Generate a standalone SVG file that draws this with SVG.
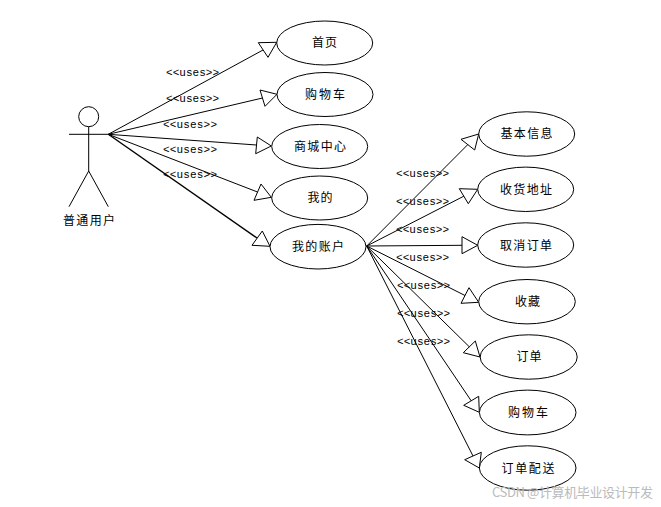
<svg xmlns="http://www.w3.org/2000/svg" width="661" height="507" viewBox="0 0 661 507">
<style>
.s{fill:none;stroke:#000;stroke-width:1}
.u{fill:#fff;stroke:#000;stroke-width:1}
.a{fill:none;stroke:#000;stroke-width:1}
.t{font-family:"Noto Sans CJK SC","Liberation Sans",sans-serif;font-size:12px;fill:#000;text-anchor:middle}
.l{font-family:"Liberation Mono","Liberation Serif",monospace;font-size:11px;fill:#000}
.w{font-family:"Noto Sans CJK SC","Liberation Sans",sans-serif;font-size:13px;fill:#bbb}
</style>
<rect width="661" height="507" fill="#fff"/>
<g id="connectors">
<path class="s" d="M108.3 134.3L263 50"/><polygon class="a" points="276.7,42.3 258.3,42.7 268,57.3"/>
<path class="s" d="M108.3 134.3L262.5 98"/><polygon class="a" points="277,94.3 260,90 265,106.3"/>
<path class="s" d="M108.3 134.3L256.5 145"/><polygon class="a" points="271.3,146 257.3,137 255.7,153.7"/>
<path class="s" d="M108.3 134.3L257.5 192"/><polygon class="a" points="271.3,197.3 261,184 254,200.3"/>
<path class="s" style="stroke-width:1.4" d="M108.3 134.3L257 238"/><polygon class="a" points="270,246.3 262.3,231 252,245.3"/>
<path class="s" d="M366.7 246L467.8 144.6"/><polygon class="a" points="478.7,134 461,139.3 474.7,150"/>
<path class="s" d="M366.7 246L463.8 196.2"/><polygon class="a" points="477.7,189.3 459.3,188.7 468.3,203.7"/>
<path class="s" d="M366.7 246L462 245.3"/><polygon class="a" points="477.7,245.3 462,236.7 462,253.7"/>
<path class="s" d="M366.7 246L465 295.5"/><polygon class="a" points="478.7,302.3 469,287.7 461,303.3"/>
<path class="s" d="M366.7 246L469.3 346.8"/><polygon class="a" points="480,357 475.3,341 463.3,352.7"/>
<path class="s" d="M366.7 246L471.2 400.8"/><polygon class="a" points="479.3,412.3 478.7,396.3 463.7,405.3"/>
<path class="s" d="M366.7 246L473 456"/><polygon class="a" points="479.3,468 481.3,452.3 464.7,459.7"/>
</g>
<g id="labels">
<text class="l" x="166" y="76" textLength="53">&lt;&lt;uses&gt;&gt;</text>
<text class="l" x="166" y="102" textLength="53">&lt;&lt;uses&gt;&gt;</text>
<text class="l" x="163" y="128" textLength="54">&lt;&lt;uses&gt;&gt;</text>
<text class="l" x="163" y="153" textLength="54">&lt;&lt;uses&gt;&gt;</text>
<text class="l" x="163" y="178" textLength="54">&lt;&lt;uses&gt;&gt;</text>
<text class="l" x="396" y="177" textLength="53">&lt;&lt;uses&gt;&gt;</text>
<text class="l" x="396" y="205" textLength="53">&lt;&lt;uses&gt;&gt;</text>
<text class="l" x="396" y="233" textLength="53">&lt;&lt;uses&gt;&gt;</text>
<text class="l" x="396" y="261" textLength="53">&lt;&lt;uses&gt;&gt;</text>
<text class="l" x="397" y="289" textLength="53">&lt;&lt;uses&gt;&gt;</text>
<text class="l" x="397" y="317" textLength="53">&lt;&lt;uses&gt;&gt;</text>
<text class="l" x="397" y="345" textLength="53">&lt;&lt;uses&gt;&gt;</text>
</g>
<g id="actor">
<circle class="s" cx="88.7" cy="116.7" r="10"/>
<path class="s" d="M88.7 126.7V171M69 134.3H108.3M88.7 171L69 206.7M88.7 171L108.3 206.7"/>
<text class="t" x="89" y="225" textLength="52">普通用户</text>
</g>
<g id="n1"><ellipse class="u" cx="324.7" cy="43" rx="48" ry="22"/><text class="t" x="324.5" y="47" textLength="25">首页</text></g>
<g id="n2"><ellipse class="u" cx="325" cy="94.5" rx="48" ry="22"/><text class="t" x="325" y="99" textLength="40">购物车</text></g>
<g id="n3"><ellipse class="u" cx="319.7" cy="146.5" rx="48" ry="22"/><text class="t" x="320" y="151" textLength="52">商城中心</text></g>
<g id="n4"><ellipse class="u" cx="319.7" cy="198" rx="48" ry="22"/><text class="t" x="320" y="202" textLength="25">我的</text></g>
<g id="n5"><ellipse class="u" cx="318" cy="246.7" rx="48" ry="22.3"/><text class="t" x="318" y="251" textLength="52">我的账户</text></g>
<g id="n6"><ellipse class="u" cx="526.7" cy="134" rx="48" ry="22.2"/><text class="t" x="526.5" y="138" textLength="52">基本信息</text></g>
<g id="n7"><ellipse class="u" cx="525.7" cy="189.3" rx="48" ry="22.2"/><text class="t" x="526" y="194" textLength="52">收货地址</text></g>
<g id="n8"><ellipse class="u" cx="525.7" cy="245" rx="48" ry="22.2"/><text class="t" x="526" y="250" textLength="52">取消订单</text></g>
<g id="n9"><ellipse class="u" cx="527" cy="301.7" rx="48.3" ry="22.2"/><text class="t" x="527.5" y="306" textLength="25">收藏</text></g>
<g id="n10"><ellipse class="u" cx="528.7" cy="357" rx="48.5" ry="22.2"/><text class="t" x="529" y="361" textLength="25">订单</text></g>
<g id="n11"><ellipse class="u" cx="527.7" cy="412.5" rx="48.3" ry="22.4"/><text class="t" x="528" y="417" textLength="40">购物车</text></g>
<g id="n12"><ellipse class="u" cx="527.7" cy="468" rx="48.3" ry="22.2"/><text class="t" x="528" y="473" textLength="53">订单配送</text></g>
<text class="w" x="492" y="497" textLength="161">CSDN @计算机毕业设计开发</text>
</svg>
